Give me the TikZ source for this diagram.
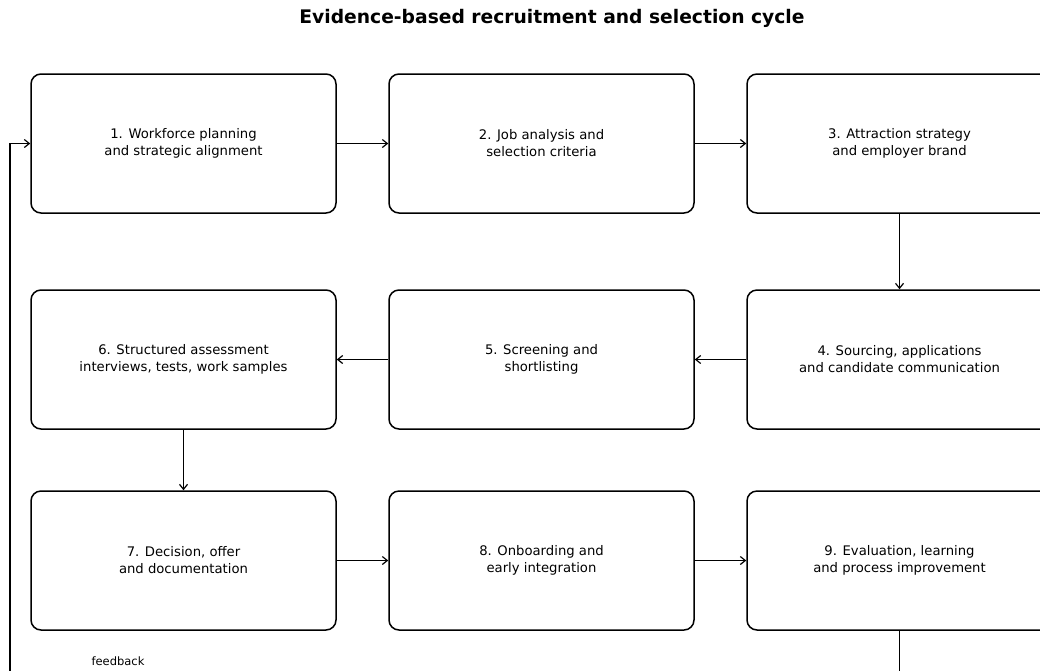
\documentclass[tikz,border=0pt]{standalone}
\usepackage{fontspec}
\setmainfont{DejaVu Sans}
\usetikzlibrary{arrows.meta}
\begin{document}
\begin{tikzpicture}[x=1pt,y=-1pt,
  stagebox/.style={draw=black, line width=1.5pt, rounded corners=10pt, minimum width=305pt, minimum height=139pt, align=center, font=\fontsize{13.2}{17}\selectfont, inner sep=0pt},
  arr/.style={draw=black, line width=1.2pt, -{Straight Barb[length=5pt,width=8pt,line width=1.2pt]}},
  lbl/.style={font=\fontsize{11.5}{13}\selectfont, inner sep=0pt}]
\useasboundingbox (0,0) rectangle (1040,670);
\clip (0,0) rectangle (1040,670);
\node[font=\bfseries\fontsize{18.7}{22}\selectfont] (title) at (552,18) {Evidence-based recruitment and selection cycle};
\node[stagebox] (b1) at (183.5,143.5) {1. Workforce planning\\and strategic alignment};
\node[stagebox] (b2) at (541.5,143.5) {2. Job analysis and\\selection criteria};
\node[stagebox] (b3) at (899.5,143.5) {3. Attraction strategy\\and employer brand};
\node[stagebox] (b4) at (899.5,359.5) {4. Sourcing, applications\\and candidate communication};
\node[stagebox] (b5) at (541.5,359.5) {5. Screening and\\shortlisting};
\node[stagebox] (b6) at (183.5,359.5) {6. Structured assessment\\interviews, tests, work samples};
\node[stagebox] (b7) at (183.5,560.5) {7. Decision, offer\\and documentation};
\node[stagebox] (b8) at (541.5,560.5) {8. Onboarding and\\early integration};
\node[stagebox] (b9) at (899.5,560.5) {9. Evaluation, learning\\and process improvement};
\node[lbl] (fb) at (118,661) {feedback};
\coordinate (fbcorner) at (10,700);
\draw[arr] (b1.east) -- (b2.west);
\draw[arr] (b2.east) -- (b3.west);
\draw[arr] (b3.south) -- (b4.north);
\draw[arr] (b4.west) -- (b5.east);
\draw[arr] (b5.west) -- (b6.east);
\draw[arr] (b6.south) -- (b7.north);
\draw[arr] (b7.east) -- (b8.west);
\draw[arr] (b8.east) -- (b9.west);
\draw[arr] (b9.south) |- (fbcorner) |- (b1.west);
\end{tikzpicture}
\end{document}
